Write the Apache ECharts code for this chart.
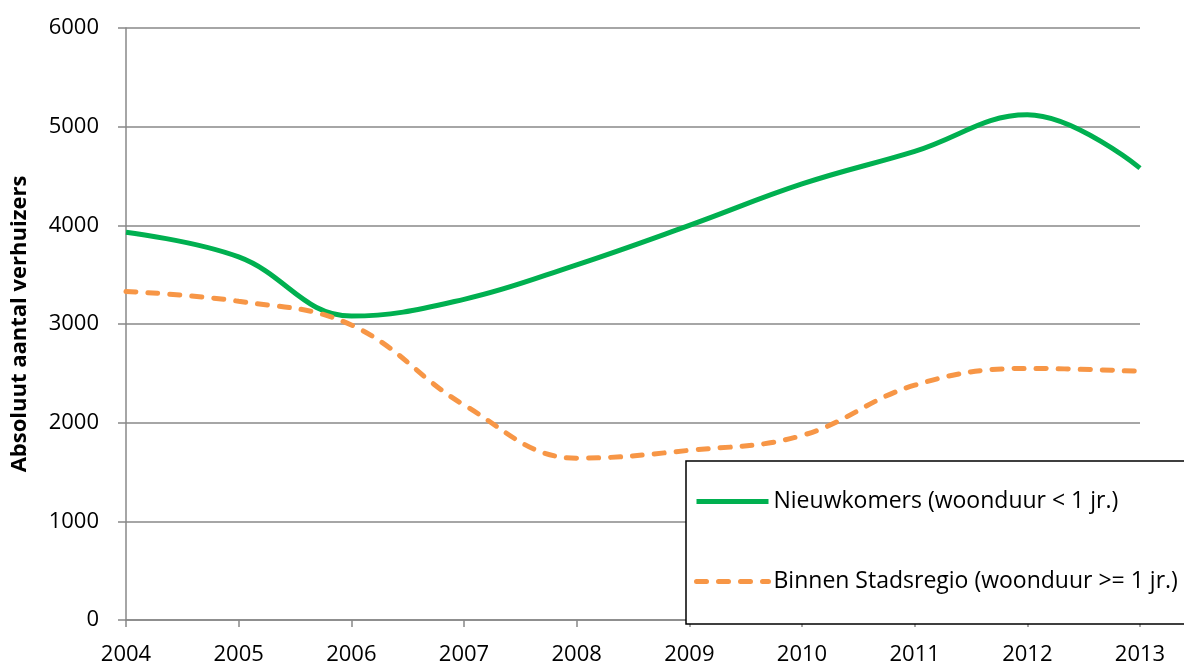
<!DOCTYPE html>
<html>
<head>
<meta charset="utf-8">
<script src="https://cdn.jsdelivr.net/npm/echarts@6/dist/echarts.min.js"></script>
<style>
  html, body { margin: 0; padding: 0; background: #fff; }
  #chart { width: 1184px; height: 666px; }
</style>
</head>
<body>
<div id="chart"></div>
<script>
// jaren en aantallen
var jaren = ["2004", "2005", "2006", "2007", "2008", "2009", "2010", "2011", "2012", "2013"];
var nieuwkomers = [3930, 3680, 3080, 3250, 3600, 4000, 4420, 4750, 5120, 4580];
var binnenStadsregio = [3330, 3230, 2990, 2180, 1640, 1720, 1870, 2380, 2550, 2520];

var chart = echarts.init(document.getElementById('chart'));
var fontFam = "'Open Sans', sans-serif";
var option = {
    animation: false,
    grid: {
        left: 126,
        right: 44,
        top: 28,
        bottom: 46,
        containLabel: false,
        outerBoundsMode: "none"
    },
    legend: {
        orient: "vertical",
        left: 686,
        top: 461,
        padding: [29, 80, 31, 8],
        itemWidth: 72,
        itemHeight: 14,
        itemGap: 57,
        backgroundColor: "#fff",
        borderColor: "#000",
        borderWidth: 1.5,
        itemStyle: { opacity: 0 },
        lineStyle: { width: 5 },
        textStyle: {
            fontFamily: fontFam,
            fontSize: 23,
            color: "#000"
        },
        data: ["Nieuwkomers (woonduur < 1 jr.)", "Binnen Stadsregio (woonduur >= 1 jr.)"]
    },
    xAxis: {
        type: "category",
        boundaryGap: false,
        data: jaren,
        axisLine: { lineStyle: { color: "#888", width: 1.5 } },
        axisTick: { show: true, length: 7, lineStyle: { color: "#888", width: 1.5 } },
        axisLabel: {
            margin: 24,
            fontFamily: fontFam,
            fontSize: 22,
            color: "#000"
        },
        splitLine: { show: false }
    },
    yAxis: {
        type: "value",
        min: 0,
        max: 6000,
        interval: 1000,
        name: "Absoluut aantal verhuizers",
        nameLocation: "middle",
        nameGap: 95,
        nameTextStyle: {
            fontFamily: fontFam,
            fontSize: 22,
            fontWeight: "bold",
            color: "#000"
        },
        axisLine: { show: true, lineStyle: { color: "#888", width: 1.5 } },
        axisTick: { show: true, length: 8, lineStyle: { color: "#888", width: 1.5 } },
        axisLabel: {
            margin: 27,
            fontFamily: fontFam,
            fontSize: 22,
            color: "#000",
            formatter: function (v) { return String(v); }
        },
        splitLine: { show: true, lineStyle: { color: "#888", width: 1.5 } }
    },
    series: [
        {
            name: "Nieuwkomers (woonduur < 1 jr.)",
            type: "line",
            data: nieuwkomers,
            smooth: 0.4,
            symbol: "none",
            color: "#00B050",
            lineStyle: { color: "#00B050", width: 5 }
        },
        {
            name: "Binnen Stadsregio (woonduur >= 1 jr.)",
            type: "line",
            data: binnenStadsregio,
            smooth: 0.4,
            symbol: "none",
            color: "#F79646",
            lineStyle: { color: "#F79646", width: 5, type: [10, 12], cap: "round" }
        }
    ]
};
chart.setOption(option);
</script>
</body>
</html>
